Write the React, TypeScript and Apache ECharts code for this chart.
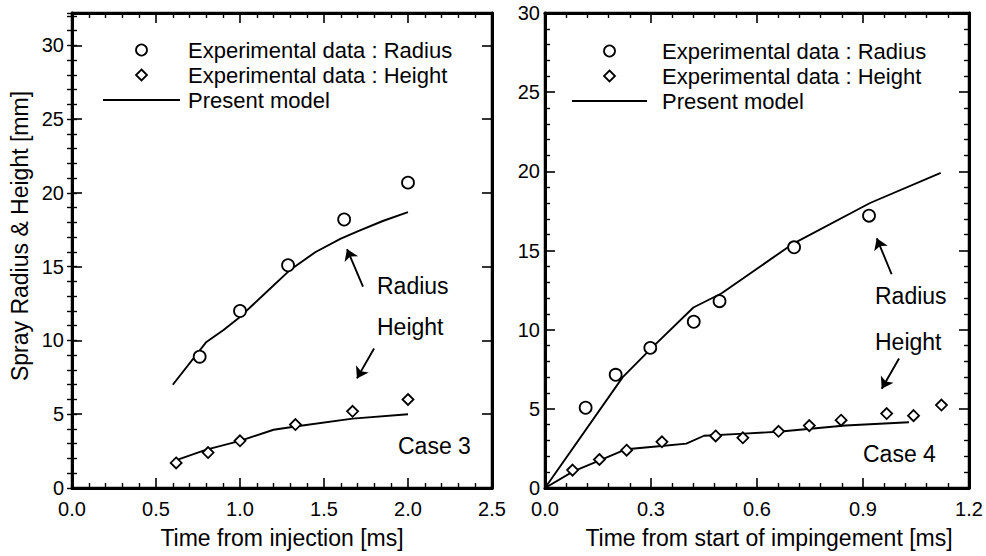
import React, { useEffect, useRef } from "react";
import * as echarts from "echarts";

// ---------- data ----------
const legendNames = ["Experimental data : Radius", "Experimental data : Height", "Present model"];

// Case 3 (left panel)
const case3RadiusExp: number[][] = [[0.76, 8.9], [1.0, 12.0], [1.286, 15.1], [1.62, 18.2], [2.0, 20.7]];
const case3HeightExp: number[][] = [[0.62, 1.7], [0.81, 2.4], [1.0, 3.2], [1.33, 4.3], [1.67, 5.2], [2.0, 6.0]];
const case3RadiusModel: number[][] = [
  [0.6, 7.0], [0.8, 9.9], [0.9, 10.7], [1.0, 11.6], [1.15, 13.2], [1.3, 14.8],
  [1.45, 16.0], [1.6, 16.9], [1.7, 17.4], [1.85, 18.1], [2.0, 18.7],
];
const case3HeightModel: number[][] = [
  [0.6, 1.8], [0.8, 2.6], [1.0, 3.2], [1.2, 3.95], [1.35, 4.2], [1.67, 4.7], [2.0, 5.0],
];

// Case 4 (right panel)
const case4RadiusExp: number[][] = [
  [0.115, 5.07], [0.2, 7.15], [0.298, 8.85], [0.421, 10.5], [0.494, 11.8], [0.705, 15.2], [0.917, 17.2],
];
const case4HeightExp: number[][] = [
  [0.078, 1.13], [0.154, 1.8], [0.231, 2.39], [0.331, 2.92], [0.483, 3.29], [0.56, 3.17],
  [0.661, 3.58], [0.748, 3.94], [0.838, 4.28], [0.967, 4.7], [1.043, 4.57], [1.122, 5.24],
];
const case4RadiusModel: number[][] = [
  [0, 0], [0.22, 7.0], [0.3, 8.8], [0.42, 11.4], [0.5, 12.3], [0.7, 15.4], [0.92, 18.0], [1.12, 19.9],
];
const case4HeightModel: number[][] = [
  [0, 0], [0.08, 1.05], [0.155, 1.75], [0.23, 2.45], [0.33, 2.65], [0.4, 2.8], [0.45, 3.3],
  [0.55, 3.42], [0.66, 3.55], [0.85, 3.95], [1.03, 4.15],
];

// annotation arrows (data coordinates: [from, to])
const case3Arrows: number[][][] = [
  [[1.732, 13.65], [1.637, 16.2]],
  [[1.798, 9.46], [1.696, 7.43]],
];
const case4Arrows: number[][][] = [
  [[0.981, 13.5], [0.939, 15.77]],
  [[1.002, 8.18], [0.953, 6.27]],
];

// axis settings
const leftXTicks = { min: 0, max: 2.5, interval: 0.5 };
const leftYTicks = { min: 0, max: 32.2, interval: 5 };
const rightXTicks = { min: 0, max: 1.2, interval: 0.3 };
const rightYTicks = { min: 0, max: 30, interval: 5 };

const FONT = "'Liberation Sans', Arial, Helvetica, sans-serif";
const BLACK = "#000";
const TEXT_SIZE = 23;
const LEGEND_SIZE = 22;

function baseAxis(extra: any) {
  return {
    type: "value",
    axisLine: { show: true, onZero: false, lineStyle: { color: BLACK, width: 3 } },
    axisTick: { show: true, inside: true, length: 10, lineStyle: { color: BLACK, width: 1.6 } },
    minorTick: { show: false },
    splitLine: { show: false },
    axisLabel: { show: false },
    ...extra,
  };
}

const minorTick = { show: true, splitNumber: 5, length: 5, lineStyle: { color: BLACK, width: 1.4 } };
const minorAxisTick = { show: true, inside: true, length: 5, lineStyle: { color: BLACK, width: 1.4 } };

function scatter(name: string, data: number[][], symbol: string, xi: number, yi: number, size: number) {
  return {
    type: "scatter",
    name,
    data,
    xAxisIndex: xi,
    yAxisIndex: yi,
    symbol,
    symbolSize: size,
    itemStyle: { color: "#fff", borderColor: BLACK, borderWidth: 1.8, opacity: 1 },
    z: 5,
  };
}

function modelLine(data: number[][], xi: number, yi: number, arrows?: number[][][]) {
  const s: any = {
    type: "line",
    name: "Present model",
    data,
    xAxisIndex: xi,
    yAxisIndex: yi,
    symbol: "none",
    showSymbol: false,
    smooth: false,
    lineStyle: { color: BLACK, width: 1.9 },
    itemStyle: { color: BLACK },
    z: 3,
  };
  if (arrows) {
    s.markLine = {
      silent: true,
      symbol: ["none", "arrow"],
      symbolSize: 11,
      label: { show: false },
      lineStyle: { color: BLACK, width: 1.9, type: "solid" },
      emphasis: { disabled: true },
      data: arrows.map((a) => [{ coord: a[0] }, { coord: a[1] }]),
    };
  }
  return s;
}

function txt(text: string, x: number, y: number, size = TEXT_SIZE) {
  return {
    type: "text",
    x,
    y,
    style: {
      text,
      fill: BLACK,
      fontSize: size,
      fontFamily: FONT,
      align: "left",
      verticalAlign: "middle",
    },
  };
}

// hand-built legend (icon + label), one per panel
function legendBlock(lineX1: number, lineX2: number, textX: number, rows: number[]) {
  const cx = (lineX1 + lineX2) / 2;
  const d = 5.5;
  return [
    {
      type: "circle",
      shape: { cx, cy: rows[0], r: 5.5 },
      style: { fill: "#fff", stroke: BLACK, lineWidth: 1.8 },
    },
    {
      type: "polygon",
      shape: { points: [[cx, rows[1] - d], [cx + d, rows[1]], [cx, rows[1] + d], [cx - d, rows[1]]] },
      style: { fill: "#fff", stroke: BLACK, lineWidth: 1.8 },
    },
    {
      type: "line",
      shape: { x1: lineX1, y1: rows[2], x2: lineX2, y2: rows[2] },
      style: { stroke: BLACK, lineWidth: 1.9 },
    },
    txt(legendNames[0], textX, rows[0], LEGEND_SIZE),
    txt(legendNames[1], textX, rows[1], LEGEND_SIZE),
    txt(legendNames[2], textX, rows[2], LEGEND_SIZE),
  ];
}

export default function App() {
  const ref = useRef<HTMLDivElement>(null);

  useEffect(() => {
    if (!ref.current) return;
    const chart = echarts.init(ref.current, undefined, { renderer: "svg" });

    const tickLabel = {
      show: true,
      color: BLACK,
      fontSize: 20,
      fontFamily: FONT,
    };
    const nameStyle = { color: BLACK, fontSize: TEXT_SIZE, fontFamily: FONT };

    const option: any = {
      animation: false,
      backgroundColor: "#fff",
      grid: [
        { left: 72, top: 13, width: 420, height: 475, containLabel: false, show: true, borderColor: BLACK, borderWidth: 2.5, backgroundColor: "transparent" },
        { left: 545, top: 13, width: 424, height: 475, containLabel: false, show: true, borderColor: BLACK, borderWidth: 2.5, backgroundColor: "transparent" },
      ],
      xAxis: [
        baseAxis({
          gridIndex: 0,
          position: "bottom",
          ...leftXTicks,
          minorTick,
          axisLabel: { ...tickLabel, margin: 11, formatter: (v: number) => v.toFixed(1) },
          name: "Time from injection [ms]",
          nameLocation: "middle",
          nameGap: 38,
          nameTextStyle: nameStyle,
        }),
        baseAxis({ gridIndex: 0, position: "top", ...leftXTicks, minorTick }),
        baseAxis({
          gridIndex: 1,
          position: "bottom",
          ...rightXTicks,
          minorTick,
          axisLabel: { ...tickLabel, margin: 11, formatter: (v: number) => v.toFixed(1) },
          name: "Time from start of impingement [ms]",
          nameLocation: "middle",
          nameGap: 38,
          nameTextStyle: { ...nameStyle, padding: [0, 0, 0, 24] },
        }),
        baseAxis({ gridIndex: 1, position: "top", ...rightXTicks, minorTick }),
      ],
      yAxis: [
        baseAxis({
          gridIndex: 0,
          position: "left",
          ...leftYTicks,
          axisLabel: { ...tickLabel, margin: 8, showMaxLabel: false },
        }),
        baseAxis({
          gridIndex: 0,
          position: "left",
          min: leftYTicks.min,
          max: leftYTicks.max,
          interval: 1,
          axisLine: { show: false },
          axisTick: minorAxisTick,
        }),
        baseAxis({ gridIndex: 0, position: "right", ...leftYTicks }),
        baseAxis({
          gridIndex: 0,
          position: "right",
          min: leftYTicks.min,
          max: leftYTicks.max,
          interval: 1,
          axisLine: { show: false },
          axisTick: minorAxisTick,
        }),
        baseAxis({
          gridIndex: 1,
          position: "left",
          ...rightYTicks,
          minorTick,
          axisLabel: { ...tickLabel, margin: 5 },
        }),
        baseAxis({ gridIndex: 1, position: "right", ...rightYTicks, minorTick }),
      ],
      series: [
        scatter(legendNames[0], case3RadiusExp, "circle", 0, 0, 12),
        scatter(legendNames[1], case3HeightExp, "diamond", 0, 0, 11),
        modelLine(case3RadiusModel, 0, 0, case3Arrows),
        modelLine(case3HeightModel, 0, 0),
        scatter(legendNames[0], case4RadiusExp, "circle", 2, 4, 12),
        scatter(legendNames[1], case4HeightExp, "diamond", 2, 4, 11),
        modelLine(case4RadiusModel, 2, 4, case4Arrows),
        modelLine(case4HeightModel, 2, 4),
      ],
      graphic: [
        {
          type: "text",
          x: 20,
          y: 236,
          rotation: Math.PI / 2,
          style: {
            text: "Spray Radius & Height [mm]",
            fill: BLACK,
            fontSize: TEXT_SIZE,
            fontFamily: FONT,
            align: "center",
            verticalAlign: "middle",
          },
        },
        ...legendBlock(103, 180, 188, [50, 75, 100]),
        ...legendBlock(572, 647, 662, [51, 76, 101]),
        txt("Radius", 377, 286),
        txt("Height", 377, 327),
        txt("Case 3", 398, 446),
        txt("Radius", 875, 296),
        txt("Height", 875, 342),
        txt("Case 4", 863, 454),
      ],
    };

    chart.setOption(option);
    return () => chart.dispose();
  }, []);

  return (
    <div
      ref={ref}
      style={{ position: "fixed", left: 0, top: 0, width: 986, height: 556, background: "#fff" }}
    />
  );
}
